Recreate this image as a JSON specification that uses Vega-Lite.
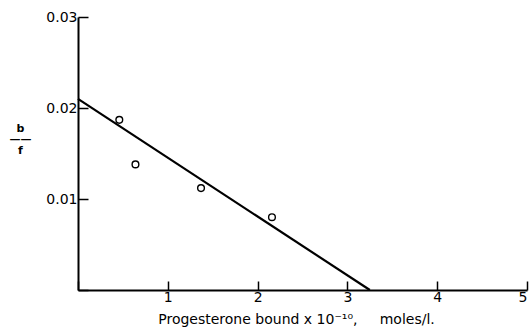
{
  "$schema": "https://vega.github.io/schema/vega-lite/v6.json",
  "autosize": {"type": "none"},
  "padding": {"left": 78, "top": 17, "right": 5, "bottom": 37},
  "width": 449,
  "height": 273,
  "background": "white",
  "config": {
    "view": {"stroke": null},
    "font": "DejaVu Sans",
    "axis": {
      "domainColor": "black", "domainWidth": 2, "tickColor": "black", "tickWidth": 1.5,
      "labelColor": "black", "titleColor": "black", "grid": false,
      "labelFont": "DejaVu Sans", "titleFont": "DejaVu Sans", "labelFontSize": 14
    }
  },
  "datasets": {
    "pts": [
      {"bound": 0.46, "bf": 0.0187},
      {"bound": 0.64, "bf": 0.0138},
      {"bound": 1.37, "bf": 0.0112},
      {"bound": 2.16, "bf": 0.0080}
    ],
    "fit": [
      {"bound": 0.0, "bf": 0.0210},
      {"bound": 3.25, "bf": 0.0}
    ]
  },
  "encoding": {
    "x": {
      "field": "bound", "type": "quantitative",
      "scale": {"domain": [0, 5], "nice": false, "zero": true},
      "axis": {
        "values": [0, 1, 2, 3, 4, 5], "tickSize": -9, "labelPadding": 9,
        "labelExpr": "datum.value == 0 ? '' : datum.label",
        "title": "Progesterone bound x 10⁻¹⁰,\u00a0\u00a0\u00a0\u00a0\u00a0moles/l.",
        "titleFontSize": 14, "titleFontWeight": "normal",
        "titleX": 218, "titleY": 33, "titleAnchor": null, "titleAlign": "center", "titleBaseline": "alphabetic"
      }
    },
    "y": {
      "field": "bf", "type": "quantitative",
      "scale": {"domain": [0, 0.03], "nice": false},
      "axis": {
        "values": [0, 0.01, 0.02, 0.03], "format": ".2f", "tickSize": -10, "labelPadding": 11,
        "labelExpr": "datum.value == 0 ? '' : datum.label",
        "title": ["b", "——", "f"], "titleAngle": 0, "titleFontSize": 11, "titleFontWeight": "bold",
        "titleLineHeight": 11, "titleX": -58, "titleY": 105, "titleAlign": "center", "titleBaseline": "top"
      }
    }
  },
  "layer": [
    {
      "data": {"name": "fit"},
      "mark": {"type": "line", "color": "black", "strokeWidth": 2.2}
    },
    {
      "data": {"name": "pts"},
      "mark": {"type": "point", "shape": "circle", "filled": false, "color": "black", "size": 45, "strokeWidth": 1.4, "opacity": 1}
    }
  ]
}
